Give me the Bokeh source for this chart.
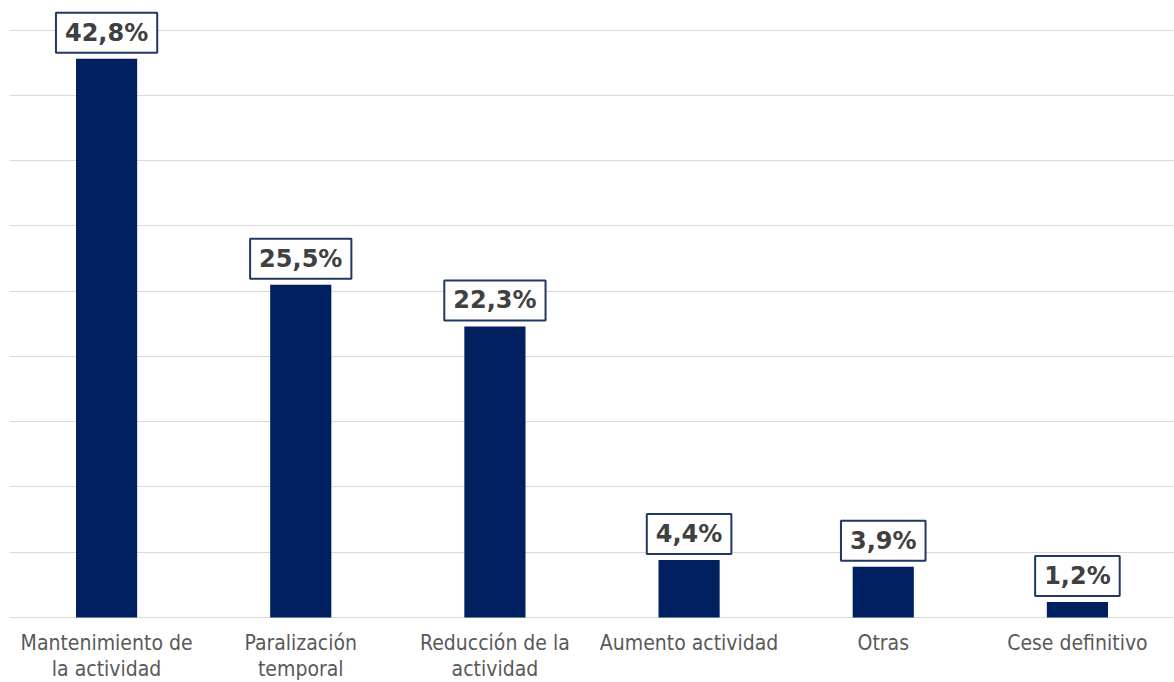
from bokeh.plotting import figure
from bokeh.models import ColumnDataSource, FactorRange, Range1d, FixedTicker
from bokeh.core.properties import value
from bokeh.embed import file_html
from bokeh.resources import INLINE

categories = ["Mantenimiento de la actividad", "Paralización temporal", "Reducción de la actividad",
              "Aumento actividad", "Otras", "Cese definitivo"]
tick_labels = ["Mantenimiento de\nla actividad", "Paralización\ntemporal", "Reducción de la\nactividad",
               "Aumento actividad", "Otras", "Cese definitivo"]
values = [42.8, 25.5, 22.3, 4.4, 3.9, 1.2]
grid_ticks = [0, 5, 10, 15, 20, 25, 30, 35, 40, 45]

labels = [f"{v:.1f}%".replace(".", ",") for v in values]
src = ColumnDataSource(dict(cat=categories, val=values, label=labels,
                            tick=tick_labels, zero=[0] * len(values)))

p = figure(x_range=FactorRange(*categories), y_range=Range1d(-4.975, 46.65),
           width=1174, height=682, output_backend="svg", toolbar_location=None,
           min_border_left=9, min_border_right=0, min_border_top=8, min_border_bottom=0)

p.vbar(x="cat", top="val", width=0.315, source=src, color="#002060", line_color=None)

p.text(x="cat", y="val", text="label", source=src, text_align="center",
       text_baseline="bottom", y_offset=-6, text_font=value("DejaVu Sans"),
       text_font_style="bold", text_font_size="24px", text_color="#404040",
       background_fill_color="white", border_line_color="#1f3864",
       border_line_width=2, padding=(9, 6))

# category (tick) labels under the baseline
p.text(x="cat", y="zero", text="tick", source=src, text_align="center",
       text_baseline="top", y_offset=13, text_font=value("DejaVu Sans Condensed"),
       text_font_size="21px", text_color="#595959", text_line_height=1.12)

p.outline_line_color = None
p.yaxis.visible = False
p.xaxis.visible = False
p.xgrid.visible = False
p.ygrid.ticker = FixedTicker(ticks=grid_ticks)
p.ygrid.grid_line_color = "#d9d9d9"
p.ygrid.grid_line_width = 1

open("out.html", "w").write(file_html(p, INLINE))
